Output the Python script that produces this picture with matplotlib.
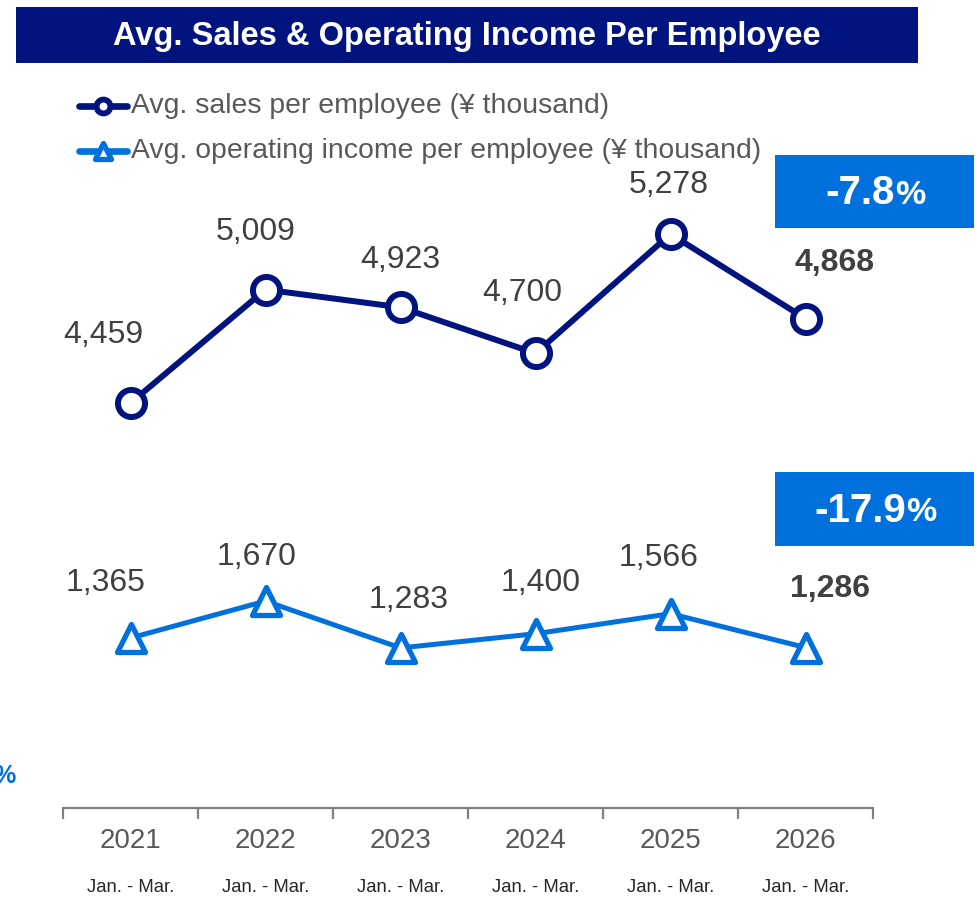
import matplotlib.pyplot as plt
from matplotlib.patches import Rectangle
from matplotlib.lines import Line2D
from matplotlib.markers import MarkerStyle

plt.rcParams['font.family'] = ['Liberation Sans', 'DejaVu Sans']

years = ["2021", "2022", "2023", "2024", "2025", "2026"]
period = "Jan. - Mar."
sales = [4459, 5009, 4923, 4700, 5278, 4868]
op_income = [1365, 1670, 1283, 1400, 1566, 1286]
sales_change = "-7.8"
op_change = "-17.9"
legend_labels = ["Avg. sales per employee (¥ thousand)",
                 "Avg. operating income per employee (¥ thousand)"]

NAVY = '#00137F'
BLUE = '#0070DD'
TXT = '#404040'
GRAY = '#595959'

W, H = 977, 907


def fx(x):
    return x / W


def fy(y):
    return 1 - y / H


# label offsets in pixels (dx, dy) for each point
sales_off = [(-27, 68), (-10, 58), (0, 47), (-13, 60), (-2, 49), (29, 56)]
op_off = [(-25, 55), (-9, 44), (8, 48), (5, 51), (-12, 56), (25, 59)]

tri = MarkerStyle('^', joinstyle='round')

fig = plt.figure(figsize=(W / 100, H / 100), dpi=100)

# title bar
fig.add_artist(Rectangle((fx(16), fy(63)), fx(918) - fx(16), fy(7) - fy(63),
                         transform=fig.transFigure, facecolor=NAVY, edgecolor='none'))
fig.text(fx(467), fy(37), "Avg. Sales & Operating Income Per Employee", color='white',
         fontsize=23.5, fontweight='bold', ha='center', va='center')

x = list(range(len(years)))

# sales per employee (top panel)
ax1 = fig.add_axes([fx(63), fy(460), fx(873) - fx(63), fy(160) - fy(460)])
ax1.plot(x, sales, color=NAVY, lw=4.3, marker='o', ms=19.5, mfc='white', mec=NAVY, mew=4.3,
         zorder=3)
ax1.set_xlim(-0.5, 5.5)
ax1.set_ylim(4183, 5637)
ax1.axis('off')
for i, v in enumerate(sales):
    last = i == len(sales) - 1
    ax1.annotate(f"{v:,}", (x[i], v), xytext=sales_off[i], textcoords='offset pixels',
                 ha='center', va='center', fontsize=23, color=TXT,
                 fontweight='bold' if last else 'normal')

# operating income per employee (bottom panel, holds x axis)
ax2 = fig.add_axes([fx(63), fy(808), fx(873) - fx(63), fy(520) - fy(808)])
ax2.plot(x, op_income, color=BLUE, lw=3.6, marker=tri, ms=20, mfc='white', mec=BLUE,
         mew=3.8, zorder=3)
ax2.set_xlim(-0.5, 5.5)
ax2.set_ylim(-40, 2340)
for i, v in enumerate(op_income):
    last = i == len(op_income) - 1
    ax2.annotate(f"{v:,}", (x[i], v), xytext=op_off[i], textcoords='offset pixels',
                 ha='center', va='center', fontsize=23, color=TXT,
                 fontweight='bold' if last else 'normal')

for s in ['top', 'right', 'left']:
    ax2.spines[s].set_visible(False)
ax2.spines['bottom'].set_color('#808080')
ax2.spines['bottom'].set_linewidth(1.6)
ax2.set_yticks([])
ax2.set_xticks([i - 0.5 for i in range(len(years) + 1)])
ax2.set_xticklabels([])
ax2.tick_params(axis='x', length=8, width=1.6, color='#808080')
for i, yr in enumerate(years):
    ax2.annotate(yr, (x[i], 0), xycoords=('data', 'axes fraction'), xytext=(0, -33),
                 textcoords='offset pixels', ha='center', va='center', fontsize=20, color=GRAY)
    ax2.annotate(period, (x[i], 0), xycoords=('data', 'axes fraction'), xytext=(0, -79),
                 textcoords='offset pixels', ha='center', va='center', fontsize=13.3,
                 color='#262626')

# legend drawn by hand: short line with marker, then label
for row_y, color, mk, ms, mew, label in [
        (106, NAVY, 'o', 10, 4.2, legend_labels[0]),
        (151, BLUE, tri, 11, 3.8, legend_labels[1])]:
    fig.add_artist(Line2D([fx(79), fx(127)], [fy(row_y), fy(row_y)], color=color, lw=4.8,
                          solid_capstyle='round', transform=fig.transFigure))
    fig.add_artist(Line2D([fx(103)], [fy(row_y)], marker=mk, ms=ms, mfc='white', mec=color,
                          mew=mew, transform=fig.transFigure))
    fig.text(fx(131), fy(row_y), label, fontsize=20.4, color=GRAY, ha='left', va='center')

# change badges
for (top, bot), val, split in [((155, 228), sales_change, 895), ((472, 546), op_change, 906)]:
    fig.add_artist(Rectangle((fx(775), fy(bot)), fx(974) - fx(775), fy(top) - fy(bot),
                             transform=fig.transFigure, facecolor=BLUE, edgecolor='none'))
    yc = fy((top + bot) / 2 + 2)
    fig.text(fx(split), yc, val, color='white', fontsize=29, fontweight='bold',
             ha='right', va='center')
    fig.text(fx(split), yc - 0.002, "%", color='white', fontsize=24.5, fontweight='bold',
             ha='left', va='center')

fig.text(fx(16), fy(776), "%", color=BLUE, fontsize=18, fontweight='bold',
         ha='right', va='center')

fig.savefig('out.png', dpi=100, facecolor='white')
